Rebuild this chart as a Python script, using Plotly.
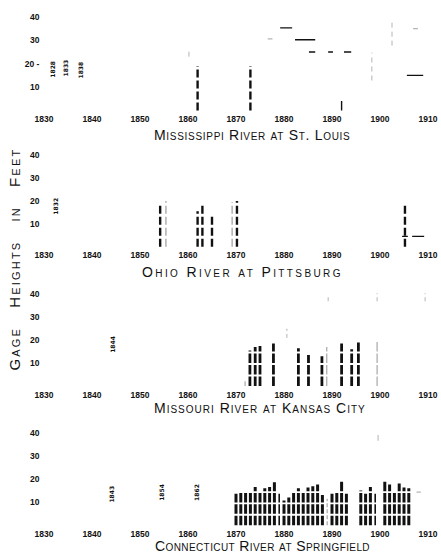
import plotly.graph_objects as go

W, H = 441, 554

# ---------------- data ----------------
year_ticks = [1830, 1840, 1850, 1860, 1870, 1880, 1890, 1900, 1910]
year_labels = ["1830", "1840", "1850", "1860", "1870", "1880", "1890", "1900", "1910"]
height_ticks = [10, 20, 30, 40]
height_labels = ["10", "20", "30", "40"]

# Mississippi River at St. Louis
miss_bar_years = [1862, 1873]
miss_bar_heights = [19, 19]
miss_stub_years = [1892]
miss_stub_heights = [4]
miss_faint_from = [1860.2, 1898.3, 1902.5]
miss_faint_low = [23.0, 12.8, 27.7]
miss_faint_high = [25.5, 24.7, 38.5]
miss_level_start = [1879.2, 1882.3, 1885.2, 1889.2, 1892.5, 1905.6]
miss_level_end = [1881.7, 1886.5, 1886.5, 1890.2, 1894.0, 1909.0]
miss_level_value = [35.3, 30.2, 25.0, 25.0, 25.0, 15.0]
miss_flevel_start = [1876.6, 1906.9]
miss_flevel_end = [1877.6, 1907.9]
miss_flevel_value = [30.6, 35.0]
miss_note_years = [1831.7, 1834.4, 1837.7]
miss_note_heights = [17.5, 18.0, 17.5]
miss_note_text = ["1828", "1833", "1838"]

# Ohio River at Pittsburg
ohio_bar_years = [1854.2, 1862.0, 1863.0, 1865.0, 1870.2, 1905.2]
ohio_bar_heights = [19.0, 15.5, 18.0, 14.0, 20.0, 19.0]
ohio_faint_years = [1855.4, 1869.2]
ohio_faint_heights = [20.0, 19.5]
ohio_level_start = [1904.6, 1906.7]
ohio_level_end = [1905.8, 1909.2]
ohio_level_value = [4.5, 4.5]
ohio_note_years = [1832.5]
ohio_note_heights = [17.5]
ohio_note_text = ["1832"]

# Missouri River at Kansas City
mo_bar_years = [1872.9, 1874.0, 1875.0, 1877.8, 1883.0, 1885.1, 1887.9, 1892.0, 1894.1, 1895.5]
mo_bar_heights = [15.5, 17.0, 17.5, 18.5, 16.5, 13.5, 13.0, 18.5, 16.0, 19.0]
mo_faint_years = [1871.9, 1888.9, 1899.4]
mo_faint_heights = [2.0, 17.0, 19.5]
mo_faint_from = [1880.6, 1889.2, 1899.4, 1909.4]
mo_faint_low = [21.0, 37.0, 37.0, 37.0]
mo_faint_high = [25.0, 40.0, 40.5, 40.5]
mo_note_years = [1844.4]
mo_note_heights = [18.0]
mo_note_text = ["1844"]

# Connecticut River at Springfield
ct_bar_years = [1870, 1871, 1872, 1873, 1874, 1875, 1876, 1877, 1878,
                1880, 1881, 1882, 1883, 1884, 1885, 1886, 1887, 1888,
                1890, 1891, 1892, 1893,
                1896, 1897, 1898,
                1901, 1902, 1903, 1904, 1905, 1906]
ct_bar_heights = [13.6, 13.9, 13.9, 14.3, 16.5, 14.0, 16.0, 16.5, 18.5,
                  10.7, 12.0, 14.0, 16.0, 14.0, 16.3, 16.8, 17.6, 13.0,
                  13.6, 14.0, 19.0, 13.6,
                  15.0, 13.6, 16.5,
                  19.0, 17.6, 14.0, 18.0, 16.3, 16.0]
ct_thin_years = [1879, 1899]
ct_thin_heights = [13.6, 13.6]
ct_faint_years = [1889]
ct_faint_heights = [11.4]
ct_faint_from = [1899.6]
ct_faint_low = [36.5]
ct_faint_high = [39.0]
ct_flevel_start = [1907.6]
ct_flevel_end = [1908.5]
ct_flevel_value = [14.3]
ct_note_years = [1844.1, 1854.6, 1861.9]
ct_note_heights = [13.5, 14.0, 14.0]
ct_note_text = ["1843", "1854", "1862"]

titles = ["Mississippi River at St. Louis", "Ohio River at Pittsburg",
          "Missouri River at Kansas City", "Connecticut River at Springfield"]
y_title = "Gage Heights in Feet"

# ---------------- layout geometry (pixels) ----------------
# (pixel of y=-1, pixel of y=41) per panel
panel_px = [(110.4, 11.6), (247.3, 150.7), (387.3, 290.7), (527.3, 429.7)]
x_px = (34.4, 437.6)
title_pos = [(252, 133), (243, 270), (260, 407), (262, 546)]
title_spacing = [0.7, 2.4, 1.0, 0.4]

BLACK = "#111111"
GREY = "#b4b4b4"


def fx(p):
    return p / W


def fy(p):
    return 1 - p / H


def verticals(xs, lows, highs):
    X, Y = [], []
    for x, lo, hi in zip(xs, lows, highs):
        X += [x, x, None]
        Y += [lo, hi, None]
    return X, Y


def horizontals(x0s, x1s, vals):
    X, Y = [], []
    for a, b, v in zip(x0s, x1s, vals):
        X += [a, b, None]
        Y += [v, v, None]
    return X, Y


fig = go.Figure()


def add_lines(X, Y, k, color, width, dash="solid"):
    fig.add_trace(go.Scatter(x=X, y=Y, mode="lines", xaxis=f"x{k}", yaxis=f"y{k}",
                             line=dict(color=color, width=width, dash=dash),
                             hoverinfo="skip", showlegend=False))


def add_bars(years, heights, k, color, width, dash):
    X, Y = verticals(years, [0] * len(years), heights)
    add_lines(X, Y, k, color, width, dash)


def add_notes(years, heights, texts, k):
    for x, y, t in zip(years, heights, texts):
        fig.add_annotation(x=x, y=y, text=t, xref=f"x{k}", yref=f"y{k}",
                           showarrow=False, textangle=-90,
                           xanchor="center", yanchor="middle",
                           font=dict(size=6, color=BLACK, family="DejaVu Sans", weight="bold"))


# panel 1
add_bars(miss_bar_years, miss_bar_heights, 1, BLACK, 2.4, "8px,3px")
add_bars(miss_stub_years, miss_stub_heights, 1, BLACK, 1.4, "solid")
X, Y = verticals(miss_faint_from, miss_faint_low, miss_faint_high)
add_lines(X, Y, 1, GREY, 1.0, "5px,4px")
X, Y = horizontals(miss_level_start, miss_level_end, miss_level_value)
add_lines(X, Y, 1, BLACK, 1.4)
X, Y = horizontals(miss_flevel_start, miss_flevel_end, miss_flevel_value)
add_lines(X, Y, 1, GREY, 1.2)

# panel 2
add_bars(ohio_bar_years, ohio_bar_heights, 2, BLACK, 2.4, "8px,3px")
add_bars(ohio_faint_years, ohio_faint_heights, 2, GREY, 1.6, "8px,3px")
X, Y = horizontals(ohio_level_start, ohio_level_end, ohio_level_value)
add_lines(X, Y, 2, BLACK, 1.3)

# panel 3
add_bars(mo_bar_years, mo_bar_heights, 3, BLACK, 2.8, "9.5px,2px")
add_bars(mo_faint_years, mo_faint_heights, 3, GREY, 1.4, "9.5px,2px")
X, Y = verticals(mo_faint_from, mo_faint_low, mo_faint_high)
add_lines(X, Y, 3, GREY, 1.0, "4px,3px")

# panel 4
add_bars(ct_bar_years, ct_bar_heights, 4, BLACK, 3.0, "9.5px,1.8px")
add_bars(ct_thin_years, ct_thin_heights, 4, BLACK, 1.6, "9.5px,1.8px")
add_bars(ct_faint_years, ct_faint_heights, 4, GREY, 1.4, "4px,2px")
X, Y = verticals(ct_faint_from, ct_faint_low, ct_faint_high)
add_lines(X, Y, 4, GREY, 1.0)
X, Y = horizontals(ct_flevel_start, ct_flevel_end, ct_flevel_value)
add_lines(X, Y, 4, GREY, 1.2)

add_notes(miss_note_years, miss_note_heights, miss_note_text, 1)
add_notes(ohio_note_years, ohio_note_heights, ohio_note_text, 2)
add_notes(mo_note_years, mo_note_heights, mo_note_text, 3)
add_notes(ct_note_years, ct_note_heights, ct_note_text, 4)

tickfont = dict(family="Liberation Sans", size=8.5, color=BLACK, weight="bold")
layout = dict(width=W, height=H, margin=dict(l=0, r=0, t=0, b=0),
              paper_bgcolor="white", plot_bgcolor="white", showlegend=False)

for k in range(1, 5):
    bot, top = panel_px[k - 1]
    ylab = list(height_labels)
    if k == 1:
        ylab[1] = "20 -"
    layout[f"xaxis{k}"] = dict(domain=[fx(x_px[0]), fx(x_px[1])], range=[1828, 1912],
                               anchor=f"y{k}", tickvals=year_ticks, ticktext=year_labels,
                               showgrid=False, zeroline=False, showline=False, ticks="",
                               tickfont=tickfont, fixedrange=True)
    layout[f"yaxis{k}"] = dict(domain=[fy(bot), fy(top)], range=[-1, 41],
                               anchor=f"x{k}", tickvals=height_ticks, ticktext=ylab,
                               showgrid=False, zeroline=False, showline=False, ticks="",
                               tickfont=tickfont, ticklabelstandoff=-6, fixedrange=True)

fig.update_layout(**layout)

for t, (cx, cy), sp in zip(titles, title_pos, title_spacing):
    fig.add_annotation(text=f'<span style="letter-spacing:{sp}px">{t}</span>',
                       x=fx(cx), y=fy(cy), xref="paper", yref="paper",
                       showarrow=False, xanchor="center", yanchor="middle",
                       font=dict(family="Liberation Sans", size=14, color=BLACK,
                                 variant="small-caps"))

fig.add_annotation(text='<span style="letter-spacing:2.2px">' +
                        y_title.replace(" ", "\u00a0\u00a0\u00a0") + "</span>",
                   x=fx(15), y=fy(258), xref="paper", yref="paper", showarrow=False,
                   textangle=-90, xanchor="center", yanchor="middle",
                   font=dict(family="Liberation Sans", size=15, color=BLACK,
                             variant="small-caps"))

fig.write_html("out.html", config={"displayModeBar": False},
               post_script="document.body.style.margin='0';document.body.style.overflow='hidden';")
